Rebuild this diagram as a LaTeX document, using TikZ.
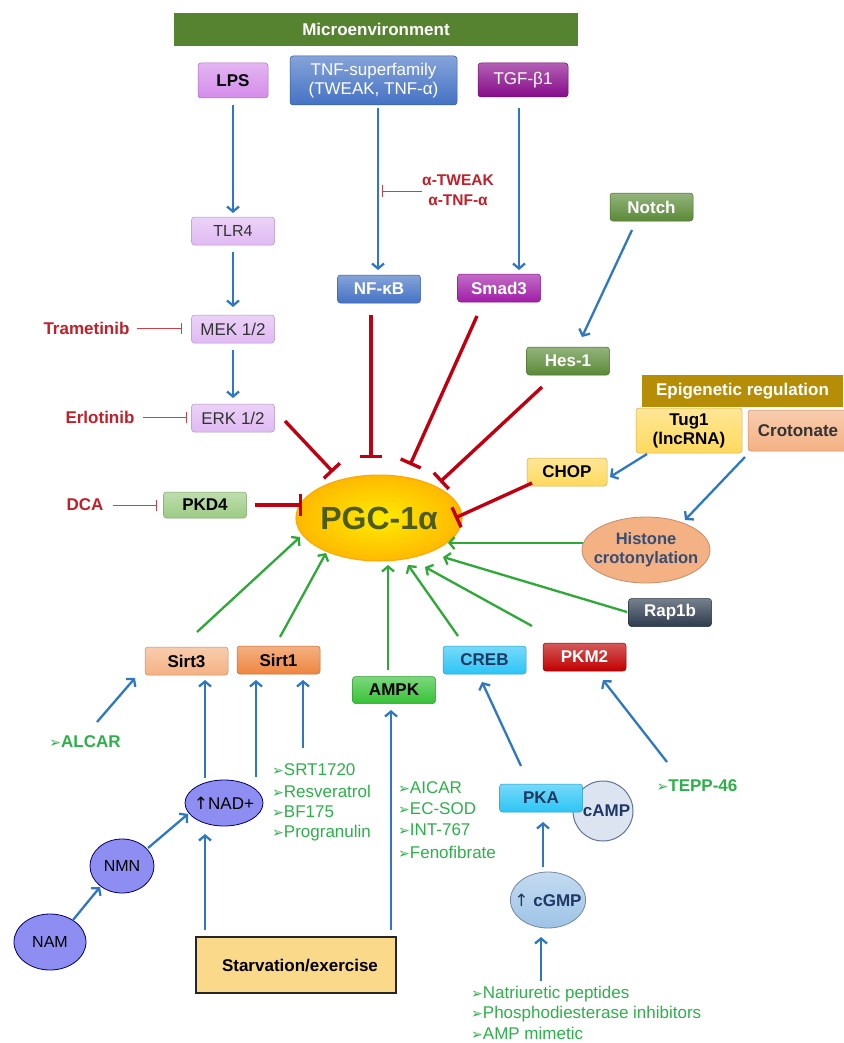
\documentclass[tikz,border=0pt]{standalone}
\usepackage{fontspec}
\setmainfont{Liberation Sans}
\newfontfamily\djv{DejaVu Sans}
\usetikzlibrary{arrows.meta,shapes.geometric}
\definecolor{cblue}{HTML}{2E78C2}
\definecolor{cgreen}{HTML}{2EA836}
\definecolor{cred}{HTML}{C00010}
\definecolor{ctred}{HTML}{C0202A}
\definecolor{clist}{HTML}{2DB04A}
\definecolor{cmicro}{HTML}{56832F}
\definecolor{clps}{HTML}{D48CEA}
\definecolor{ctnf}{HTML}{4472C4}
\definecolor{ctgf}{HTML}{870A8A}
\definecolor{clav}{HTML}{E0BAF3}
\definecolor{cpkd}{HTML}{9CCB84}
\definecolor{csmad}{HTML}{A11DA8}
\definecolor{cnotch}{HTML}{5A8A36}
\definecolor{cepi}{HTML}{B68D06}
\definecolor{cyel}{HTML}{FFD95E}
\definecolor{corg}{HTML}{F4B183}
\definecolor{crap}{HTML}{2D3B4E}
\definecolor{csirt}{HTML}{EE8640}
\definecolor{campk}{HTML}{36C236}
\definecolor{ccyan}{HTML}{2CC5F6}
\definecolor{cpkm}{HTML}{C00000}
\definecolor{ccamp}{HTML}{DCE4F2}
\definecolor{ccgmp}{HTML}{9DC3E6}
\definecolor{cnad}{HTML}{8E8EF2}
\definecolor{cstarv}{HTML}{FBD98A}
\definecolor{cnavy}{HTML}{1F3864}
\definecolor{cpgctxt}{HTML}{4E5B1E}
\newcommand{\fbx}{\fontsize{17}{19}\selectfont\bfseries}
\newcommand{\frg}{\fontsize{17}{19}\selectfont}
\newcommand{\mybul}{{\djv\fontsize{14}{14}\selectfont ➢}}
\begin{document}
\begin{tikzpicture}[x=1pt,y=-1pt,
  pbox/.style={rectangle, rounded corners=3pt, top color=#1!65!white, bottom color=#1, draw=#1!80!black, line width=0.5pt, inner sep=0pt, align=center, minimum width=83pt, minimum height=28pt, font=\fbx},
  flatbar/.style={rectangle, fill=#1, inner sep=0pt, text=white, font=\fbx},
  ell/.style={ellipse, inner sep=0pt, fill=#1, draw=#1!60!black, line width=0.8pt, align=center},
  barr/.style={cblue, line width=2.3pt, -{Straight Barb[length=5pt,width=12pt]}},
  garr/.style={cgreen, line width=2.3pt, -{Straight Barb[length=5pt,width=12pt]}},
  inh/.style={cred, line width=3.4pt, -{Bar[width=22pt]}},
  tinh/.style={ctred!85!white, line width=0.9pt, -{Bar[width=11pt]}},
  rtxt/.style={text=ctred, font=\fbx, inner sep=1pt},
  gtxt/.style={text=clist, font=\frg, inner sep=0pt, anchor=west},
  gbtxt/.style={text=clist, font=\fbx, inner sep=0pt},
]
\fill[white] (0,0) rectangle (843,1043);
\useasboundingbox (0,0) rectangle (843,1043);

% --- top ---
\node[flatbar=cmicro, minimum width=404pt, minimum height=33pt] (micro) at (376,29.5) {Microenvironment};
\node[pbox=clps, minimum width=70pt, minimum height=35pt] (lps) at (233,80.5) {LPS};
\node[pbox=ctnf, minimum width=167pt, minimum height=49pt, text=white, font=\frg] (tnf) at (373.5,80.5) {TNF-superfamily\\(TWEAK, TNF-α)};
\node[pbox=ctgf, minimum width=90pt, minimum height=34pt, text=white, font=\frg] (tgf) at (523,80) {TGF-β1};

\node[pbox=clav, text=black!80, font=\fontsize{16}{18}\selectfont] (tlr4) at (233,231) {TLR4};
\node[pbox=clav, text=black!80, font=\frg] (mek) at (233,329) {MEK 1/2};
\node[pbox=clav, text=black!80, font=\frg] (erk) at (233,418) {ERK 1/2};
\node[pbox=cpkd, minimum height=26pt] (pkd4) at (205,505) {PKD4};

\node[rtxt] (tram) at (86.5,328) {Trametinib};
\node[rtxt] (erl) at (100,417) {Erlotinib};
\node[rtxt] (dca) at (85,505) {DCA};
\node[rtxt, align=center, font=\fontsize{15.5}{20}\selectfont\bfseries] (tweak) at (458,190) {α-TWEAK\\α-TNF-α};

\node[pbox=ctnf, text=white] (nfkb) at (379,289) {NF-κB};
\node[pbox=csmad, text=white] (smad3) at (499,288) {Smad3};
\node[pbox=cnotch, text=white] (notch) at (651.5,207) {Notch};
\node[pbox=cnotch, text=white] (hes1) at (568,361) {Hes-1};

\node[flatbar=cepi, minimum width=201pt, minimum height=32pt] (epi) at (742.5,391) {Epigenetic regulation};
\node[pbox=cyel, minimum width=106pt, minimum height=45pt, font=\fontsize{17}{19}\selectfont\bfseries] (tug1) at (689,430.5) {Tug1\\(lncRNA)};
\node[pbox=corg, minimum width=100pt, minimum height=41pt, text=black!80] (crot) at (798,430.5) {Crotonate};
\node[pbox=cyel, minimum width=80pt] (chop) at (567,472) {CHOP};
\node[ell=corg, minimum width=128pt, minimum height=66pt, inner sep=-9pt, text=cnavy!90, font=\fontsize{16.5}{19}\selectfont\bfseries, draw=corg!80!black] (hist) at (646,550) {Histone\\crotonylation};
\node[pbox=crap, text=white] (rap1b) at (670,612.5) {Rap1b};

% --- PGC ---
\node[ellipse, minimum width=128pt, minimum height=86pt, inner sep=0pt, inner color=yellow!85!orange, outer color=orange!55!yellow, draw=orange!70!yellow, line width=1pt, text=cpgctxt, font=\fontsize{32}{34}\selectfont\bfseries] (pgc) at (379,518) {PGC-1α};

% --- bottom ---
\node[pbox=corg] (sirt3) at (186.5,661) {Sirt3};
\node[pbox=csirt] (sirt1) at (278.5,660) {Sirt1};
\node[pbox=campk, minimum height=27pt] (ampk) at (394,690) {AMPK};
\node[pbox=ccyan, text=cnavy] (creb) at (484.5,660) {CREB};
\node[pbox=cpkm, text=white] (pkm2) at (584.5,657) {PKM2};

\node[gbtxt] (alcar) at (85,742) {\mybul ALCAR};
\node[gbtxt] (tepp) at (697,786) {\mybul TEPP-46};

\node[gtxt] (srt1720) at (272,770) {\mybul SRT1720};
\node[gtxt] (resv) at (272,791) {\mybul Resveratrol};
\node[gtxt] (bf175) at (272,812) {\mybul BF175};
\node[gtxt] (progr) at (272,833) {\mybul Progranulin};

\node[gtxt] (aicar) at (398,788) {\mybul AICAR};
\node[gtxt] (ecsod) at (398,809) {\mybul EC-SOD};
\node[gtxt] (int767) at (398,830) {\mybul INT-767};
\node[gtxt] (fenof) at (398,852) {\mybul Fenofibrate};

\node[gtxt] (natri) at (471,994) {\mybul Natriuretic peptides};
\node[gtxt] (phos) at (471,1014) {\mybul Phosphodiesterase inhibitors};
\node[gtxt] (ampm) at (471,1033) {\mybul AMP mimetic};

\node[circle, minimum size=60pt, inner sep=0pt, fill=ccamp, draw=cnavy!70, line width=1pt, text=cnavy, font=\fbx] (camp) at (603,811) {\hspace*{7pt}cAMP};
\node[pbox=ccyan, text=cnavy] (pka) at (541,798) {PKA};
\node[ell=ccgmp, minimum width=74pt, minimum height=56pt, inner sep=-7pt, text=cnavy, font=\fbx, top color=ccgmp!60!white, bottom color=ccgmp, draw=cnavy!60] (cgmp) at (548,900) {{\djv\mdseries↑} cGMP};

\node[ell=cnad, minimum width=78pt, minimum height=46pt, inner sep=-4pt, font=\frg, draw=blue!40!black] (nad) at (224,803) {{\djv ↑}NAD+};
\node[ell=cnad, minimum width=64pt, minimum height=54pt, font=\fontsize{16}{18}\selectfont, draw=blue!40!black] (nmn) at (122,866) {NMN};
\node[ell=cnad, minimum width=72pt, minimum height=56pt, font=\fontsize{16}{18}\selectfont, draw=blue!40!black] (nam) at (50,942) {NAM};

\node[rectangle, fill=cstarv, draw=black!85, line width=1.3pt, minimum width=200pt, minimum height=56pt, font=\fbx] (starv) at (296,965) {\hspace*{8pt}Starvation/exercise};

\coordinate (srtIn) at (303,748);
\coordinate (teppIn) at (667,762);
\coordinate (natIn) at (541,981);
\coordinate (tnfmid) at (382,191);

% --- blue arrows ---
\draw[barr] ([shift={(0,25)}]lps.center) -- ([shift={(0,-18)}]tlr4.center);
\draw[barr] ([shift={(0,21)}]tlr4.center) -- ([shift={(0,-22)}]mek.center);
\draw[barr] ([shift={(0,21)}]mek.center) -- ([shift={(0,-20)}]erk.center);
\draw[barr] ([shift={(4.5,27.5)}]tnf.center) -- ([shift={(-1,-19)}]nfkb.center);
\draw[barr] ([shift={(-4,28)}]tgf.center) -- ([shift={(20,-18)}]smad3.center);
\draw[barr] ([shift={(-19.5,23)}]notch.center) -- ([shift={(14,-24)}]hes1.center);
\draw[barr] ([shift={(-42,23.5)}]tug1.center) -- ([shift={(43,5)}]chop.center);
\draw[barr] ([shift={(-53,26.5)}]crot.center) -- ([shift={(39,-30)}]hist.center);
\draw[barr] ([shift={(12,-20)}]alcar.center) -- ([shift={(-51.5,17)}]sirt3.center);
\draw[barr] ([shift={(-19,-25)}]nad.center) -- ([shift={(18.5,19)}]sirt3.center);
\draw[barr] ([shift={(32,-26)}]nad.center) -- ([shift={(-22.5,20)}]sirt1.center);
\draw[barr] (srtIn) -- ([shift={(24.5,20)}]sirt1.center);
\draw[barr] ([shift={(26,-18)}]nmn.center) -- ([shift={(-36,11)}]nad.center);
\draw[barr] ([shift={(23,-22)}]nam.center) -- ([shift={(-22,21)}]nmn.center);
\draw[barr] ([shift={(-91,-35)}]starv.center) -- ([shift={(-19,31)}]nad.center);
\draw[barr] ([shift={(95,-35)}]starv.center) -- ([shift={(-3,20)}]ampk.center);
\draw[barr] ([shift={(-20,-32)}]pka.center) -- ([shift={(-2.5,22)}]creb.center);
\draw[barr] (teppIn) -- ([shift={(18.5,23)}]pkm2.center);
\draw[barr] ([shift={(-5,-33)}]cgmp.center) -- ([shift={(2,24)}]pka.center);
\draw[barr] (natIn) -- ([shift={(-7,37)}]cgmp.center);

% --- red inhibitions ---
\draw[inh] ([shift={(52,3)}]erk.center) -- ([shift={(-46,-46)}]pgc.center);
\draw[inh] ([shift={(-8,26)}]nfkb.center) -- ([shift={(-8,-60)}]pgc.center);
\draw[inh] ([shift={(-22,28)}]smad3.center) -- ([shift={(31,-53)}]pgc.center);
\draw[inh] ([shift={(-26,26)}]hes1.center) -- ([shift={(61,-36)}]pgc.center);
\draw[inh] ([shift={(-35,11)}]chop.center) -- ([shift={(76,0)}]pgc.center);
\draw[inh] ([shift={(50,0)}]pkd4.center) -- ([shift={(-77,-13)}]pgc.center);

\draw[tinh] ([shift={(50.5,0)}]tram.center) -- ([shift={(-51,-1)}]mek.center);
\draw[tinh] ([shift={(43,0)}]erl.center) -- ([shift={(-46,-1)}]erk.center);
\draw[tinh] ([shift={(28,0)}]dca.center) -- ([shift={(-48,0)}]pkd4.center);
\draw[tinh] ([shift={(-36,1)}]tweak.center) -- (tnfmid);

% --- green activations ---
\draw[garr] ([shift={(10.5,-29)}]sirt3.center) -- ([shift={(-79,19)}]pgc.center);
\draw[garr] ([shift={(1.5,-23)}]sirt1.center) -- ([shift={(-53,35)}]pgc.center);
\draw[garr] ([shift={(-6,-20)}]ampk.center) -- ([shift={(9,47)}]pgc.center);
\draw[garr] ([shift={(-26.5,-24)}]creb.center) -- ([shift={(29,47)}]pgc.center);
\draw[garr] ([shift={(-52.5,-31)}]pkm2.center) -- ([shift={(46,49)}]pgc.center);
\draw[garr] ([shift={(-43,-0.5)}]rap1b.center) -- ([shift={(64,39)}]pgc.center);
\draw[garr] ([shift={(-63,-7)}]hist.center) -- ([shift={(69,25)}]pgc.center);
\end{tikzpicture}
\end{document}
